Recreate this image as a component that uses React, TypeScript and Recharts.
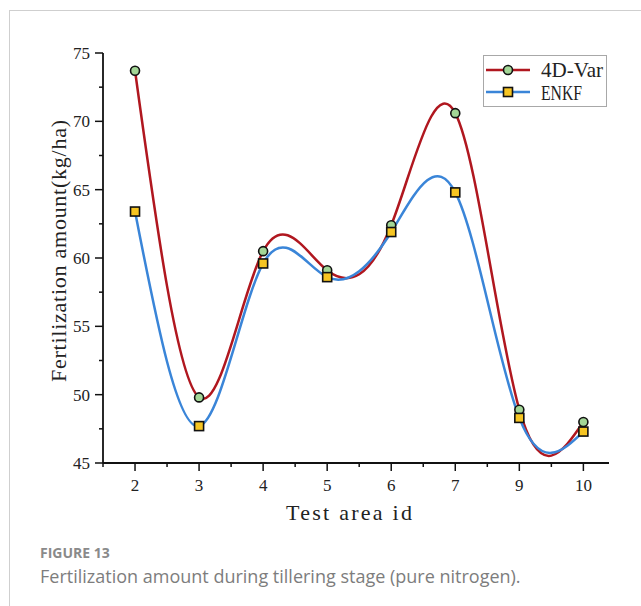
import React from 'react';
import { LineChart, Line, XAxis, YAxis, Legend } from 'recharts';

// test area ids shown on the x axis (evenly spaced, 8 is missing)
const AREA_IDS = ['2', '3', '4', '5', '6', '7', '9', '10'];
const VAR4D = [73.7, 49.8, 60.5, 59.1, 62.4, 70.6, 48.9, 48.0];
const ENKF = [63.4, 47.7, 59.6, 58.6, 61.9, 64.8, 48.3, 47.3];

// x ticks: majors on the ids, minors half way between
const X_TICKS = [-0.5, 0, 0.5, 1, 1.5, 2, 2.5, 3, 3.5, 4, 4.5, 5, 5.5, 6, 6.5, 7];
const Y_TICKS = [45, 47.5, 50, 52.5, 55, 57.5, 60, 62.5, 65, 67.5, 70, 72.5, 75];

const RED = '#b0171f';
const BLUE = '#3a85d8';
const GREEN = '#a3d696';
const YELLOW = '#f6c523';
const SERIF = '"Liberation Serif", "Times New Roman", serif';

const data = AREA_IDS.map((id, i) => ({ idx: i, id, var4d: VAR4D[i], enkf: ENKF[i] }));

function XTick(props: any) {
  const { x, y, payload } = props;
  const v = payload.value;
  const major = Number.isInteger(v);
  return (
    <g>
      <line x1={x} x2={x} y1={y} y2={y + (major ? 8 : 4)} stroke="#111" strokeWidth={1.5} />
      {major && (
        <text x={x} y={y + 28} textAnchor="middle" fontFamily={SERIF} fontSize={17} fill="#222">
          {AREA_IDS[v]}
        </text>
      )}
    </g>
  );
}

function YTick(props: any) {
  const { x, y, payload } = props;
  const v = payload.value;
  const major = v % 5 === 0;
  return (
    <g>
      <line x1={x} x2={x - (major ? 8 : 4)} y1={y} y2={y} stroke="#111" strokeWidth={1.5} />
      {major && (
        <text x={x - 13} y={y + 6} textAnchor="end" fontFamily={SERIF} fontSize={17} fill="#222">
          {v}
        </text>
      )}
    </g>
  );
}

function CircleDot(props: any) {
  const { cx, cy, index } = props;
  return <circle key={'c' + index} cx={cx} cy={cy} r={4.5} fill={GREEN} stroke="#111" strokeWidth={1.6} />;
}

function SquareDot(props: any) {
  const { cx, cy, index } = props;
  return (
    <rect key={'s' + index} x={cx - 4.5} y={cy - 4.5} width={9} height={9} fill={YELLOW} stroke="#111" strokeWidth={1.6} />
  );
}

function LegendBox() {
  return (
    <div style={{ border: '1px solid #a8a8a8', width: 122, height: 50, background: '#fff' }}>
      <svg width={122} height={50}>
        <line x1={2} x2={46} y1={14} y2={14} stroke={RED} strokeWidth={2.5} />
        <circle cx={24} cy={14} r={4.5} fill={GREEN} stroke="#111" strokeWidth={1.6} />
        <text x={57} y={21} fontFamily={SERIF} fontSize={21} fill="#222" textLength={62} lengthAdjust="spacingAndGlyphs">
          4D-Var
        </text>
        <line x1={2} x2={46} y1={36} y2={36} stroke={BLUE} strokeWidth={2.5} />
        <rect x={19.5} y={31.5} width={9} height={9} fill={YELLOW} stroke="#111" strokeWidth={1.6} />
        <text x={57} y={44} fontFamily={SERIF} fontSize={21} fill="#222" textLength={41} lengthAdjust="spacingAndGlyphs">
          ENKF
        </text>
      </svg>
    </div>
  );
}

export default function App() {
  return (
    <div
      style={{
        position: 'fixed',
        left: 0,
        top: 0,
        width: 641,
        height: 606,
        background: '#fff',
        overflow: 'hidden',
      }}
    >
      <div
        style={{
          position: 'absolute',
          left: 9,
          top: 10,
          width: 700,
          height: 700,
          borderTop: '1px solid #cfcfcf',
          borderLeft: '1px solid #cfcfcf',
        }}
      />
      <div style={{ position: 'absolute', left: 0, top: 0 }}>
        <LineChart width={641} height={540} data={data} margin={{ top: 53, right: 32, bottom: 27, left: 43 }}>
          <XAxis
            dataKey="idx"
            type="number"
            domain={[-0.5, 7.4]}
            ticks={X_TICKS}
            interval={0}
            tickSize={0}
            tickMargin={0}
            tick={<XTick />}
            height={50}
            axisLine={{ stroke: '#111', strokeWidth: 1.8 }}
            tickLine={false}
            label={{
              content: (p: any) => {
                const vb = p.viewBox;
                return (
                  <text
                    x={vb.x + vb.width / 2 - 7}
                    y={vb.y + 57}
                    textAnchor="middle"
                    fontFamily={SERIF}
                    fontSize={22}
                    fill="#222"
                    textLength={126}
                    lengthAdjust="spacing"
                  >
                    Test area id
                  </text>
                );
              },
            }}
          />
          <YAxis
            type="number"
            domain={[45, 75]}
            ticks={Y_TICKS}
            interval={0}
            tickSize={0}
            tickMargin={0}
            tick={<YTick />}
            width={60}
            axisLine={{ stroke: '#111', strokeWidth: 1.8 }}
            tickLine={false}
            label={{
              content: (p: any) => {
                const vb = p.viewBox;
                const cx = vb.x + vb.width - 45;
                const cy = vb.y + vb.height / 2 - 7;
                return (
                  <text
                    x={cx}
                    y={cy}
                    transform={`rotate(-90 ${cx} ${cy})`}
                    textAnchor="middle"
                    dominantBaseline="central"
                    fontFamily={SERIF}
                    fontSize={22}
                    fill="#222"
                    textLength={262}
                    lengthAdjust="spacing"
                  >
                    Fertilization amount(kg/ha)
                  </text>
                );
              },
            }}
          />
          <Legend
            layout="horizontal"
            verticalAlign="middle"
            align="center"
            content={() => <LegendBox />}
            wrapperStyle={{ left: 483, top: 55, width: 124, height: 52 }}
          />
          <Line
            type="natural"
            dataKey="var4d"
            name="4D-Var"
            stroke={RED}
            strokeWidth={2.5}
            dot={CircleDot}
            activeDot={false}
            isAnimationActive={false}
          />
          <Line
            type="natural"
            dataKey="enkf"
            name="ENKF"
            stroke={BLUE}
            strokeWidth={2.5}
            dot={SquareDot}
            activeDot={false}
            isAnimationActive={false}
          />
        </LineChart>
      </div>
      <div
        style={{
          position: 'absolute',
          left: 40,
          top: 543,
          fontFamily: '"Open Sans", sans-serif',
          fontWeight: 700,
          fontSize: 14,
          color: '#8a8a8a',
        }}
      >
        FIGURE 13
      </div>
      <div
        style={{
          position: 'absolute',
          left: 40,
          top: 564,
          fontFamily: '"Open Sans", sans-serif',
          fontSize: 18,
          color: '#7d7d7d',
          whiteSpace: 'nowrap',
        }}
      >
        Fertilization amount during tillering stage (pure nitrogen).
      </div>
    </div>
  );
}
